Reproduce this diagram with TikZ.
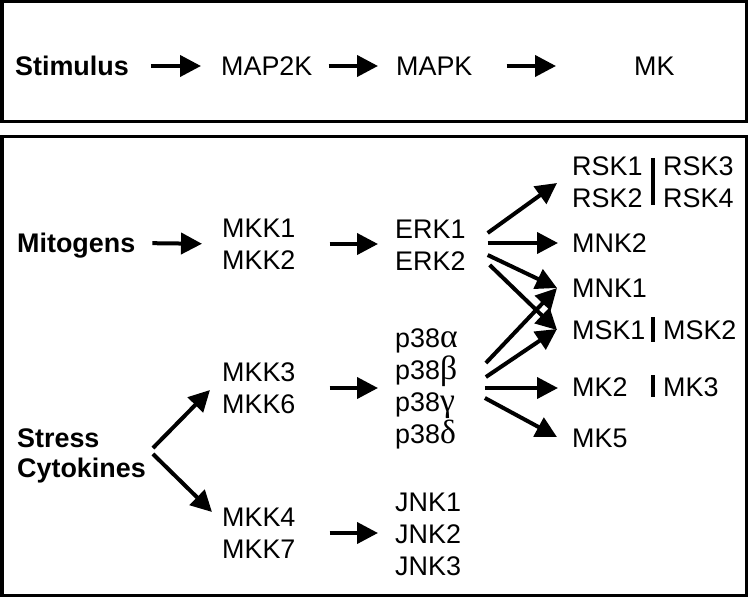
\documentclass[tikz,border=0pt]{standalone}
\usepackage{fontspec}
\setmainfont{Liberation Sans}
\newfontfamily\greekfont{Liberation Serif}[Scale=1.25]
\usetikzlibrary{arrows.meta, calc}

\tikzset{
  lbl/.style={anchor=west, align=left, inner sep=0pt, text depth=0pt, font=\fontsize{27}{32}\selectfont},
  stim/.style={lbl, font=\fontsize{27}{30}\selectfont\bfseries},
  arr/.style={line width=4bp, -{Triangle[length=21bp,width=21bp]}},
  bar/.style={line width=3.5bp},
  frame/.style={line width=3bp}
}
\newcommand{\gr}[1]{{\greekfont #1}}

\begin{document}
\begin{tikzpicture}[x=1bp,y=-1bp]
            \useasboundingbox (0,0) rectangle (750,598);
            \draw[frame] (2,2) rectangle (746,122);% general scheme
            \draw[frame] (2,137) rectangle (746,595);% the cascades

            % top row
            \node[stim] (Stimulus) at (15,66) {Stimulus};
            \node[lbl] (MAPtwoK) at (221,66) {MAP2K};
            \node[lbl] (MAPK) at (396,66) {MAPK};
            \node[lbl] (MK) at (634,66) {MK};
            \draw[arr, shorten <=22bp, shorten >=20bp] (Stimulus.east) -- (MAPtwoK.west);
            \draw[arr, shorten <=16bp, shorten >=18bp] (MAPtwoK.east) -- (MAPK.west);
            \draw[arr, shorten <=34bp, shorten >=78bp] (MAPK.east) -- (MK.west);

            % stimuli
            \node[stim] (Mitogens) at (17,243) {Mitogens};
            \node[stim] (Stress) at (17,453) {Stress\\Cytokines};

            % MAP2Ks
            \node[lbl] (MKKonetwo) at (222,244) {MKK1\\MKK2};
            \node[lbl] (MKKthreesix) at (222,388) {MKK3\\MKK6};
            \node[lbl] (MKKfourseven) at (222,533) {MKK4\\MKK7};

            % MAPKs
            \node[lbl] (ERK) at (395,245) {ERK1\\ERK2};
            \node[lbl] (Pthreeeight) at (395,386) {p38\gr{α}\\p38\gr{β}\\p38\gr{γ}\\p38\gr{δ}};
            \node[lbl] (JNK) at (395,534) {JNK1\\JNK2\\JNK3};

            % MKs
            \node[lbl] (RSKonetwo) at (572,182) {RSK1\\RSK2};
            \node[lbl] (RSKthreefour) at (663,182) {RSK3\\RSK4};
            \node[lbl] (MNKtwo) at (572,243) {MNK2};
            \node[lbl] (MNKone) at (572,288) {MNK1};
            \node[lbl] (MSKone) at (572,330) {MSK1};
            \node[lbl] (MSKtwo) at (663,330) {MSK2};
            \node[lbl] (MKtwo) at (572,387) {MK2};
            \node[lbl] (MKthree) at (663,387) {MK3};
            \node[lbl] (MKfive) at (572,438) {MK5};
            \draw[bar] (653,158) -- (653,205);
            \draw[bar] (653,317) -- (653,342);
            \draw[bar] (653,375) -- (653,397);

            % stimulus -> MAP2K
            \draw[arr, shorten <=17bp, shorten >=20bp] (Mitogens.east) -- (MKKonetwo.west);
            \draw[arr] ([shift={(7,-5)}]Stress.east) -- ([shift={(-12,2)}]MKKthreesix.west);
            \draw[arr] ([shift={(7,1)}]Stress.east) -- ([shift={(-10,-21)}]MKKfourseven.west);

            % MAP2K -> MAPK
            \draw[arr, shorten <=34bp, shorten >=17bp] (MKKonetwo.east) -- (MKKonetwo.east -| ERK.west);
            \draw[arr, shorten <=34bp, shorten >=17bp] (MKKthreesix.east) -- (MKKthreesix.east -| Pthreeeight.west);
            \draw[arr, shorten <=34bp, shorten >=17bp] (MKKfourseven.east) -- (MKKfourseven.east -| JNK.west);

            % MAPK -> MK
            \draw[arr] ([shift={(22,-12)}]ERK.east) -- ([shift={(-15,1)}]RSKonetwo.west);
            \draw[arr] ([shift={(22,-2)}]ERK.east) -- ([shift={(-14,0)}]MNKtwo.west);
            \draw[arr] ([shift={(22,10)}]ERK.east) -- ([shift={(-15,0)}]MNKone.west);
            \draw[arr] ([shift={(24,20)}]ERK.east) -- ([shift={(-15,0)}]MSKone.west);
            \draw[arr] ([shift={(28,-23)}]Pthreeeight.east) -- ([shift={(-15,0)}]MNKone.west);
            \draw[arr] ([shift={(28,-9)}]Pthreeeight.east) -- ([shift={(-15,-1)}]MSKone.west);
            \draw[arr] ([shift={(27,2)}]Pthreeeight.east) -- ([shift={(-14,1)}]MKtwo.west);
            \draw[arr] ([shift={(27,12)}]Pthreeeight.east) -- ([shift={(-15,-1)}]MKfive.west);
        \end{tikzpicture}
\end{document}
